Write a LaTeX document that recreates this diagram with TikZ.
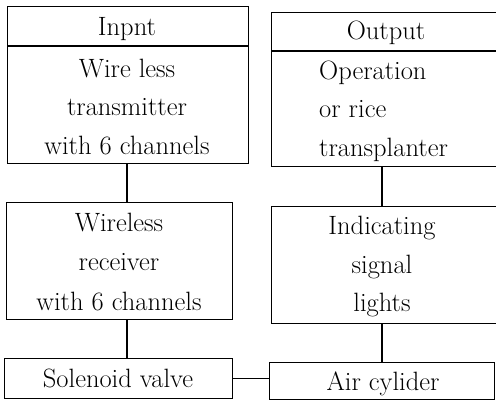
\documentclass[tikz,border=0pt]{standalone}
\usepackage{fontspec}
\begin{document}
\begin{tikzpicture}[x=1pt,y=-1pt,
  box/.style={draw, line width=1.3pt, rectangle, inner sep=0pt, anchor=north west},
  lbl/.style={font=\fontsize{26.5}{30}\selectfont\addfontfeatures{FakeBold=0.6}, inner sep=0pt, anchor=base},
  lbll/.style={lbl, anchor=base west},
  link/.style={line width=1.3pt}]
\clip (0,0) rectangle (496,401);
% left column
\node[box, minimum width=241pt, minimum height=157pt] (inp) at (7,6) {};
\coordinate (inpdiv) at (7,46);
\draw[link] (inpdiv) -- (inpdiv -| inp.east);
\node[lbl] (inpt) at (127,36) {Inpnt};
\node[lbl] (tx1) at (127,78) {Wire less};
\node[lbl] (tx2) at (127,116) {transmitter};
\node[lbl] (tx3) at (127,155) {with 6 channels};

\node[box, minimum width=226pt, minimum height=117pt] (rcv) at (6,202) {};
\node[lbl] (rx1) at (119,232) {Wireless};
\node[lbl] (rx2) at (119,271) {receiver};
\node[lbl] (rx3) at (119,310) {with 6 channels};

\node[box, minimum width=228pt, minimum height=40pt] (sol) at (4,358) {};
\node[lbl] (solt) at (118,387) {Solenoid valve};

% right column
\node[box, minimum width=240pt, minimum height=154pt] (out) at (271,12) {};
\coordinate (outdiv) at (271,51);
\draw[link] (outdiv) -- (outdiv -| out.east);
\node[lbl] (outt) at (386,40) {Output};
\node[lbll] (op1) at (319,80) {Operation};
\node[lbll] (op2) at (319,118) {or rice};
\node[lbll] (op3) at (319,157) {transplanter};

\node[box, minimum width=240pt, minimum height=117pt] (ind) at (271,206) {};
\node[lbl] (in1) at (382,235) {Indicating};
\node[lbl] (in2) at (382,273) {signal};
\node[lbl] (in3) at (382,312) {lights};

\node[box, minimum width=225pt, minimum height=37pt] (air) at (269,362) {};
\node[lbl] (airt) at (383,390) {Air cylider};

% connectors
\draw[link] (inp.south -| tx3) -- (rcv.north -| tx3);
\draw[link] (rcv.south -| tx3) -- (sol.north -| tx3);
\draw[link] (out.south -| in1) -- (ind.north -| in1);
\draw[link] (ind.south -| in1) -- (air.north -| in1);
\draw[link] (sol.east) -- (sol.east -| air.west);
\end{tikzpicture}
\end{document}
